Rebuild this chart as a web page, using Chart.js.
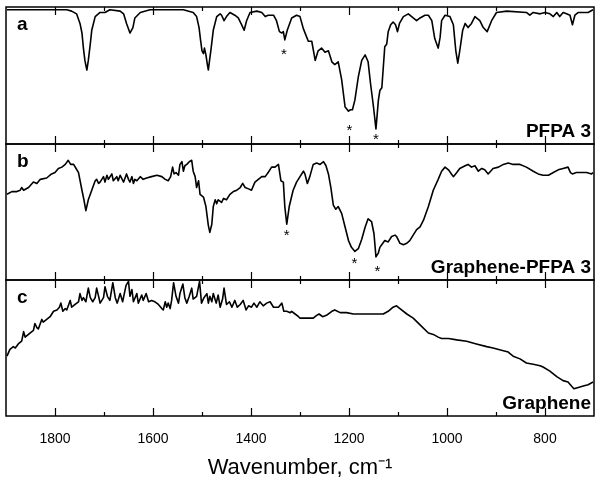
<!DOCTYPE html>
<html>
<head>
<meta charset="utf-8">
<script src="https://cdn.jsdelivr.net/npm/chart.js@4.4.0/dist/chart.umd.min.js"></script>
<style>
body{margin:0;background:#fff}
#wrap{position:relative;width:600px;height:485px}
canvas{position:absolute;left:0}
</style>
</head>
<body>
<div id="wrap">
<canvas id="pA" width="600" height="151" style="top:0px"></canvas>
<canvas id="pB" width="600" height="150" style="top:137px"></canvas>
<canvas id="pC" width="600" height="212" style="top:273px"></canvas>
</div>
<script>
var FONT = '"Liberation Sans", Arial, Helvetica, sans-serif';

// x axis (wavenumber, reversed)
var xMin = 700, xMax = 1900;
var tickLabels = [1800, 1600, 1400, 1200, 1000, 800];
var minorTicks = [1700, 1500, 1300, 1100, 900];

// panel a : PFPA 3
var pfpaWn = [1898,1844,1776,1766,1756,1749,1745,1742,1739,1735,1732,1728,1725,1718,1708,1698,1688,1667,1660,1654,
  1647,1641,1637,1626,1606,1538,1518,1511,1506,1503,1500,1497,1495,1492,1489,1487,1485,1482,1477,1470,
  1463,1460,1455,1450,1443,1433,1426,1419,1414,1409,1402,1388,1378,1371,1365,1354,1348,1342,1337,1334,
  1331,1326,1317,1307,1300,
  1293,1283,1276,1269,1263,1256,1249,1242,1235,1229,1222,1215,1208,1201,1197,1193,1188,1181,1174,1167,
  1161,1156,1150,1145,1140,1137,1133,1130,1127,1123,1120,1115,1110,1105,1101,1097,1089,1079,1069,1062,
  1055,1045,1038,1031,1025,1018,1014,1011,1004,994,987,982,978,974,968,963,957,950,943,933,
  926,918,909,899,878,838,831,824,810,800,790,783,776,770,763,756,749,744,739,732,722,712,702];
var pfpaT = [98,98,98,97,95,88,81,70,61,54,61,73,83,93,96,96,98,97,95,88,
  81,85,92,96,98,98,96,93,85,76,68,66,70,65,58,54,60,68,83,93,
  95,94,90,93,96,94,92,87,83,90,96,97,96,93,94,94,90,82,81,82,
  76,83,92,94,93,
  84,75,75,61,68,70,67,68,60,58,60,47,27,24,25,25,32,49,61,65,
  60,44,27,11,32,39,41,56,71,73,82,87,89,87,82,88,93,95,92,90,
  92,94,94,90,77,70,78,90,94,93,87,68,59,68,83,88,85,88,93,90,
  85,82,90,96,97,96,94,96,95,96,95,93,96,93,96,95,94,87,94,96,96,96,98];
var pfpaStarWn = [1333, 1199, 1145];
var pfpaStarT = [68, 13, 6];

// panel b : Graphene-PFPA 3
var gpfpaWn = [1898,1888,1878,1871,1868,1864,1854,1844,1837,1830,1817,1807,1800,1793,1786,1779,1773,1768,1762,1757,
  1752,1745,1741,1737,1732,1725,1718,1715,1711,1708,1701,1698,1694,1691,1684,1681,1674,1671,1667,1660,
  1654,1650,1647,1643,1640,1637,1633,1626,1620,1613,1603,1592,1582,1575,1569,1564,1560,1557,1553,1548,
  1545,1541,1538,1535,1531,1526,1521,1518,1514,1511,1507,1504,1497,1492,1487,1484,1480,1477,1473,1470,
  1467,1460,1456,1450,1443,1436,1429,1422,1417,1412,1405,1399,1392,1385,1378,1371,1365,1358,1351,1344,
  1339,1334,1331,1327,1322,1314,1307,1300,
  1293,1290,1285,1280,1273,1266,1259,1252,1247,1242,1237,1232,1227,1222,1215,1208,1201,1195,1188,1181,
  1174,1167,1161,1154,1149,1145,1140,1137,1131,1127,1120,1113,1106,1103,1096,1089,1082,1076,1069,1062,
  1055,1048,1038,1028,1018,1011,1004,997,991,987,980,974,963,957,950,943,936,929,923,916,
  906,895,885,875,865,851,838,824,814,804,793,783,773,763,753,748,744,736,725,715,705,702];
var gpfpaT = [63,65,65,66,68,66,68,72,71,74,75,78,79,82,83,85,88,85,85,82,
  79,66,59,51,59,66,73,74,71,72,76,72,77,74,78,73,76,73,77,72,
  78,74,72,76,71,74,73,76,74,75,76,77,76,74,73,76,83,78,79,77,
  85,87,80,84,85,87,88,80,76,68,73,63,61,54,40,35,41,54,59,56,
  59,57,60,59,63,65,66,68,71,68,67,66,72,74,76,76,79,83,83,85,
  73,72,54,41,54,66,72,76,
  80,78,71,76,85,86,85,87,84,78,68,55,52,54,49,39,29,24,21,23,
  30,39,45,43,34,17,20,24,27,29,28,32,33,32,27,26,27,29,33,37,
  39,44,54,66,74,80,83,81,78,76,79,82,84,85,83,84,80,82,81,78,
  82,83,85,86,85,85,83,80,78,77,77,79,81,82,83,79,78,79,79,79,78,79];
var gpfpaStarWn = [1327, 1189, 1142];
var gpfpaStarT = [36, 15, 9];

// panel c : Graphene
var grWn = [1898,1892,1885,1881,1875,1868,1864,1861,1851,1844,1841,1837,1834,1827,1824,1817,1810,1803,1796,1791,
  1788,1784,1779,1776,1769,1766,1759,1752,1749,1745,1742,1737,1732,1728,1723,1718,1715,1711,1708,1701,
  1698,1693,1688,1682,1677,1673,1667,1662,1655,1650,1647,1643,1640,1633,1630,1623,1620,1614,1609,1603,
  1596,1589,1582,1579,1575,1572,1569,1565,1562,1558,1553,1548,1545,1539,1535,1531,1526,1521,1518,1511,
  1505,1501,1496,1490,1487,1484,1480,1477,1471,1467,1463,1458,1455,1450,1444,1439,1433,1428,1422,1416,
  1410,1405,1399,1394,1388,1382,1375,1368,1361,1354,1344,1337,1333,1327,1320,1317,1310,1303,1300,
  1286,1273,1266,1261,1254,1246,1235,1229,1218,1205,1191,1164,1130,1120,1110,1103,1096,1082,1069,1055,
  1038,1028,1018,1011,997,980,960,940,919,906,885,875,872,865,851,838,824,810,804,790,
  776,763,753,746,741,732,722,712,702];
var grT = [44,49,51,50,53,55,62,58,61,63,68,65,64,71,69,71,73,77,78,80,
  83,77,79,78,85,80,82,84,90,85,87,84,94,87,84,87,94,88,83,87,
  95,88,85,98,87,83,90,84,96,99,88,93,84,90,83,89,85,90,84,85,
  84,82,79,78,84,80,83,79,85,98,88,83,90,97,87,83,88,94,86,88,
  99,83,87,90,83,88,84,90,83,89,80,86,94,82,84,80,85,80,82,85,
  78,81,80,83,80,84,81,83,84,80,80,83,77,77,76,77,75,73,72,
  72,72,74,75,73,74,77,78,76,76,75,75,75,77,80,81,79,75,72,67,
  61,60,58,57,57,56,55,53,51,50,48,47,46,44,42,39,38,37,36,33,
  29,26,25,22,20,21,22,23,25];

function pts(wn, t) {
  var out = [];
  for (var i = 0; i < wn.length; i++) out.push({x: wn[i], y: t[i]});
  return out;
}

// frame, inward ticks, panel labels and asterisks
var panelPlugin = {
  id: 'panel',
  afterDraw: function(chart, args, o) {
    var ctx = chart.ctx, a = chart.chartArea, xs = chart.scales.x, ys = chart.scales.y;
    ctx.save();
    ctx.strokeStyle = '#000';
    ctx.lineWidth = 1.5;
    ctx.strokeRect(a.left, a.top, a.right - a.left, a.bottom - a.top);
    ctx.lineWidth = 1.2;
    ctx.beginPath();
    tickLabels.forEach(function(v) {
      var px = Math.round(xs.getPixelForValue(v)) + 0.5;
      ctx.moveTo(px, a.top); ctx.lineTo(px, a.top + 8);
      ctx.moveTo(px, a.bottom); ctx.lineTo(px, a.bottom - 8);
    });
    minorTicks.forEach(function(v) {
      var px = Math.round(xs.getPixelForValue(v)) + 0.5;
      ctx.moveTo(px, a.top); ctx.lineTo(px, a.top + 4);
      ctx.moveTo(px, a.bottom); ctx.lineTo(px, a.bottom - 4);
    });
    ctx.stroke();

    ctx.fillStyle = '#000';
    ctx.font = 'bold 19px ' + FONT;
    ctx.textBaseline = 'alphabetic';
    ctx.textAlign = 'left';
    ctx.fillText(o.letter, a.left + 11, a.top + 23);
    ctx.textAlign = 'right';
    ctx.fillText(o.name, a.right - 3, a.bottom - 7);

    ctx.font = '15px ' + FONT;
    ctx.textAlign = 'center';
    for (var i = 0; i < o.starWn.length; i++) {
      ctx.fillText('*', xs.getPixelForValue(o.starWn[i]), ys.getPixelForValue(o.starT[i]) + 8.5);
    }
    ctx.restore();
  }
};

function makePanel(id, wn, t, letter, name, starWn, starT, bottom) {
  return new Chart(document.getElementById(id), {
    type: 'line',
    data: {
      datasets: [{
        data: pts(wn, t),
        borderColor: '#000',
        borderWidth: 1.6,
        borderJoinStyle: 'round',
        pointRadius: 0,
        tension: 0,
        fill: false
      }]
    },
    options: {
      responsive: false,
      animation: false,
      layout: {padding: {top: 7, left: 6, right: 6, bottom: bottom ? 0 : 7}},
      plugins: {
        legend: {display: false},
        tooltip: {enabled: false},
        panel: {letter: letter, name: name, starWn: starWn, starT: starT}
      },
      scales: {
        x: {
          type: 'linear',
          min: xMin,
          max: xMax,
          reverse: true,
          display: bottom,
          grid: {display: false},
          border: {display: false},
          afterBuildTicks: function(s) {
            s.ticks = tickLabels.map(function(v) { return {value: v}; });
          },
          afterFit: function(s) { if (bottom) s.height = 69; },
          ticks: {
            color: '#000',
            font: {family: FONT, size: 14},
            padding: 7,
            maxRotation: 0,
            autoSkip: false,
            callback: function(v) { return String(v); }
          },
          title: {
            display: bottom,
            text: 'Wavenumber, cm\u207B\u00B9',
            color: '#000',
            font: {family: FONT, size: 22},
            padding: {top: 0, bottom: 4}
          }
        },
        y: {min: 0, max: 100, display: false}
      }
    },
    plugins: [panelPlugin]
  });
}

makePanel('pA', pfpaWn, pfpaT, 'a', 'PFPA 3', pfpaStarWn, pfpaStarT, false);
makePanel('pB', gpfpaWn, gpfpaT, 'b', 'Graphene-PFPA 3', gpfpaStarWn, gpfpaStarT, false);
makePanel('pC', grWn, grT, 'c', 'Graphene', [], [], true);
</script>
</body>
</html>
